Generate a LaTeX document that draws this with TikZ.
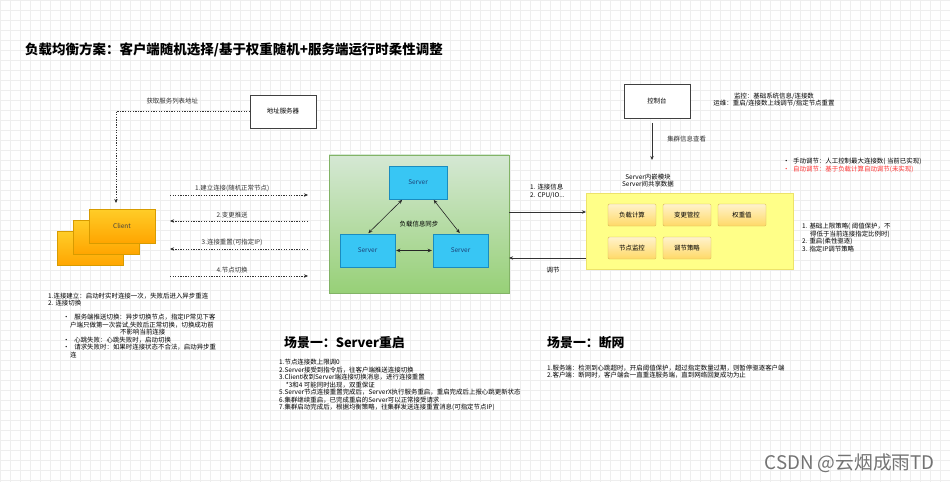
\documentclass[tikz,border=0pt]{standalone}
\usepackage{fontspec}
\setmainfont{Noto Sans CJK SC}
\usetikzlibrary{arrows.meta,positioning,calc}
\definecolor{gridgray}{HTML}{EEEEEE}
\definecolor{clienttop}{HTML}{FFCD28}
\definecolor{clientbot}{HTML}{FFA500}
\definecolor{clientline}{HTML}{D79B00}
\definecolor{greentop}{HTML}{D5E8D4}
\definecolor{greenbot}{HTML}{97D077}
\definecolor{greenline}{HTML}{82B366}
\definecolor{serverfill}{HTML}{38C6F4}
\definecolor{serverline}{HTML}{1A8CBF}
\definecolor{servertext}{HTML}{1C3F75}
\definecolor{panelfill}{HTML}{FFFF88}
\definecolor{panelline}{HTML}{EDE36A}
\definecolor{modtop}{HTML}{FFF2CC}
\definecolor{modbot}{HTML}{FFD966}
\definecolor{modline}{HTML}{D6B656}
\definecolor{alert}{HTML}{FF3333}

\tikzset{
  sz/.style 2 args={minimum width=#1*0.03cm, minimum height=#2*0.03cm, inner sep=0pt, outer sep=0pt},
  note/.style={font=\fontsize{5.5}{6.4}\selectfont, align=left, inner sep=0pt, anchor=west},
  heading/.style={font=\fontsize{11.5}{14}\selectfont\bfseries, inner sep=0pt, anchor=west},
  plainbox/.style={draw=black!75, fill=white, font=\fontsize{5.5}{6.4}\selectfont},
  clientbox/.style={draw=clientline, top color=clienttop, bottom color=clientbot, font=\fontsize{5.5}{6.4}\selectfont, text=black!75},
  serverbox/.style={draw=serverline, fill=serverfill, font=\fontsize{5.5}{6.4}\selectfont, text=servertext},
  modbox/.style={draw=modline, top color=modtop, bottom color=modbot, font=\fontsize{5.5}{6.4}\selectfont, rounded corners=1pt},
  dotarrow/.style={black!80, line width=0.5pt, dash pattern=on 1.1pt off 1.1pt, -{Stealth[length=3.5pt,width=3pt]}},
  solidarrow/.style={black!80, line width=0.5pt, -{Stealth[length=3.5pt,width=3pt]}},
  sync/.style={black!85, line width=0.5pt, {Stealth[length=3.5pt,width=3pt]}-{Stealth[length=3.5pt,width=3pt]}, shorten <=1pt, shorten >=1pt},
  linklabel/.style={note, anchor=south, yshift=0.09cm}
}

\begin{document}
\begin{tikzpicture}[x=0.03cm,y=-0.03cm]
  \fill[white] (0,0) rectangle (950,482);
  \useasboundingbox (0,0) rectangle (950,482);
  % background grid
  \foreach \g in {0,10,...,950} \draw[gridgray, line width=0.2pt] (\g,0) -- (\g,482);
  \foreach \g in {0,10,...,480} \draw[gridgray, line width=0.2pt] (0,\g) -- (950,\g);

  % Title
  \node[heading] (title) at (25,50) {负载均衡方案：客户端随机选择/基于权重随机+服务端运行时柔性调整};

  % Address server and clients
  \node[plainbox, sz={66}{33}] (addr) at (283,111.5) {地址服务器};
  \node[clientbox, sz={66}{34}] (client3) at (90,248.5) {};
  \node[clientbox, sz={66}{34}] (client2) at (106,237) {};
  \node[clientbox, sz={66}{34}] (client) at (122,226) {Client};
  \draw[dotarrow] (addr.west) -| node[pos=0.29, note, anchor=south, yshift=0.2cm] {获取服务列表地址} ([xshift=-0.18cm,yshift=0.18cm]client.north);

  % Client <-> cluster links
  \foreach \i/\yy in {1/195,2/221,3/249,4/276} {
    \coordinate (cl\i) at (170,\yy);
    \coordinate (cr\i) at (308,\yy);
  }
  \draw[dotarrow] (cl1) -- node[pos=0.45, linklabel] {1.建立连接(随机正常节点)} (cr1);
  \draw[dotarrow] (cr2) -- node[pos=0.55, linklabel] {2.变更推送} (cl2);
  \draw[dotarrow] (cr3) -- node[pos=0.55, linklabel] {3.连接重置(可指定IP)} (cl3);
  \draw[dotarrow] (cl4) -- node[pos=0.45, linklabel] {4.节点切换} (cr4);

  % Server cluster
  \node[draw=greenline, top color=greentop, bottom color=greenbot, sz={180}{138}] (cluster) at (419,224) {};
  \node[serverbox, sz={58}{33}] (stop) at (418,182.5) {Server};
  \node[serverbox, sz={55}{33}] (sleft) at (367.5,250.5) {Server};
  \node[serverbox, sz={55}{33}] (sright) at (460.5,250.5) {Server};
  \draw[sync] ([xshift=-0.45cm]stop.south) -- (sleft.north);
  \draw[sync] ([xshift=0.45cm]stop.south) -- (sright.north);
  \draw[sync] (sleft.east) -- (sright.west);
  \node[note, anchor=center] (synclabel) at (419,224) {负载信息同步};

  % Console
  \node[plainbox, sz={66}{34}] (console) at (657,101) {控制台};
  \node[note, align=center, anchor=center] (monitor) at (774,100) {监控：基础系统信息/连接数\\运维：重启/连接数上线调节/指定节点重置};
  \coordinate (viewend) at (652,160);
  \draw[solidarrow, shorten <=0.15cm] (console.south -| viewend) -- node[note, xshift=0.45cm] {集群信息查看} (viewend);

  % Embedded modules
  \node[draw=panelline, fill=panelfill, sz={207}{76}] (modules) at (689.5,231) {};
  \node[note, align=center, anchor=center] (embed) at (648,180.5) {Server内嵌模块\\Server间共享数据};
  \node[modbox, sz={48}{22}] (calc) at (632,215) {负载计算};
  \node[modbox, sz={48}{22}, right=0.21cm of calc] (change) {变更管控};
  \node[modbox, sz={48}{22}, right=0.21cm of change] (weight) {权重值};
  \node[modbox, sz={48}{22}, below=0.33cm of calc] (watch) {节点监控};
  \node[modbox, sz={48}{22}, right=0.21cm of watch] (tune) {调节策略};

  % Cluster <-> modules
  \draw[solidarrow] ([yshift=0.36cm]cluster.east) -- ([yshift=0.36cm]cluster.east -| modules.west);
  \draw[solidarrow] ([yshift=-0.81cm]modules.west) -- ([yshift=-0.81cm]modules.west -| cluster.east);
  \node[note] (info) at (530,191.5) {1. 连接信息\\2. CPU/IO...};
  \node[note, anchor=center] (tunelabel) at (553,270) {调节};

  % Adjustment notes
  \node[note] (manual) at (783,165.5) {•\hspace{3pt}手动调节：人工控制最大连接数( 当前已实现)\\\textcolor{alert}{•\hspace{3pt}自动调节：基于负载计算自动调节(未实现)}};
  \node[note, font=\fontsize{5.5}{6.5}\selectfont] (policy) at (802,237.5) {1. 基础上限策略( 阈值保护，不\\\hspace*{0.24cm}得低于当前连接指定比例时)\\2. 重启(柔性驱逐)\\3. 指定IP调节策略};

  % Client notes
  \node[note] (clientnote) at (48,325.5) {1.连接建立：启动时实时连接一次，失败后进入异步重连\\2. 连接切换\\[5.5pt]
    \hspace*{0.45cm}•\hspace*{0.14cm}服务端推送切换：异步切换节点，指定IP常见下客\\
    \hspace*{0.66cm}户端只做第一次尝试,失败后正常切换，切换成功前\\
    \hspace*{2.16cm}不影响当前连接\\
    \hspace*{0.45cm}•\hspace*{0.14cm}心跳失败：心跳失败时，启动切换\\
    \hspace*{0.45cm}•\hspace*{0.14cm}请求失败时：如果时连接状态不合法，启动异步重\\
    \hspace*{0.66cm}连};

  % Scenario: restart
  \node[heading, font=\fontsize{11}{13}\selectfont\bfseries] (sceneA) at (284,343) {场景一：Server重启};
  \node[note] (sceneAsteps) at (279,385) {1.节点连接数上限调0\\2.Server接受到指令后，往客户端推送连接切换\\3.Client收到Server端连接切换消息，进行连接重置\\\hspace*{0.2cm}*3和4 可能同时出现，双重保证\\5.Server节点连接重置完成后，ServerX执行服务重启，重启完成后上报心跳更新状态\\6.集群继续重启，已完成重启的Server可以正常接受请求\\7.集群启动完成后，根据均衡策略，往集群发送连接重置消息(可指定节点IP)};

  % Scenario: network loss
  \node[heading, font=\fontsize{11}{13}\selectfont\bfseries] (sceneB) at (547,343) {场景一：断网};
  \node[note] (sceneBsteps) at (547,371.5) {1.服务端：检测到心跳超时，开启阈值保护，超过指定数量过期，则暂停驱逐客户端\\2.客户端：断网时，客户端会一直重连服务端，直到网络回复成功为止};

  % Watermark
  \node[font=\fontsize{16}{18}\selectfont, text=black!55, anchor=east, inner sep=0pt] (mark) at (935,463) {CSDN @云烟成雨TD};
\end{tikzpicture}
\end{document}
